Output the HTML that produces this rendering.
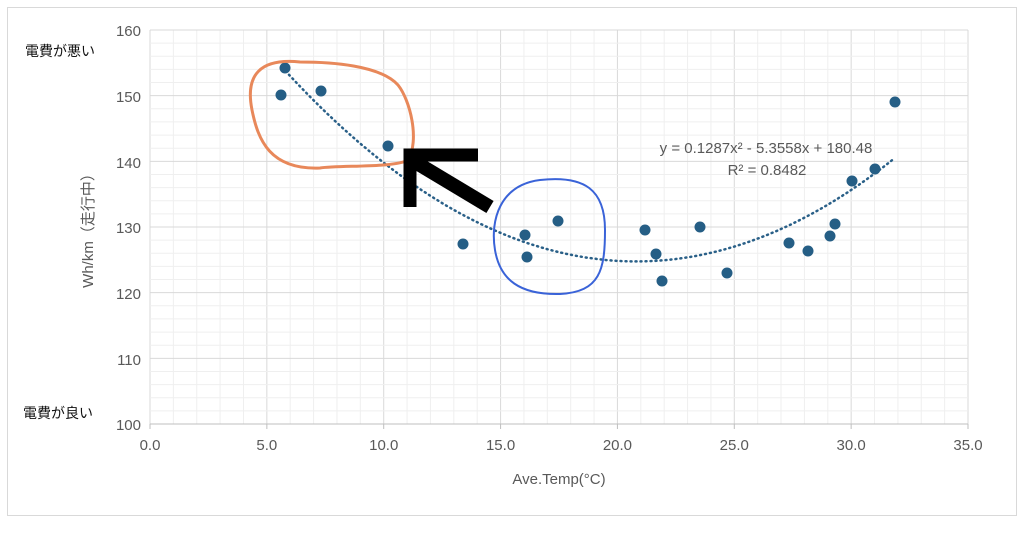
<!DOCTYPE html>
<html><head><meta charset="utf-8"><style>
body{margin:0;background:#fff;width:1024px;height:532px;overflow:hidden}
svg text{font-family:"Liberation Sans","Noto Sans CJK JP",sans-serif;fill:#595959}
</style></head><body>
<svg width="1024" height="532" viewBox="0 0 1024 532" xmlns="http://www.w3.org/2000/svg">
<rect x="7.5" y="7.5" width="1009" height="508" fill="#fff" stroke="#d9d9d9"/>
<g id="grid"></g>
<g id="pts"></g>
<text x="141" y="36" font-size="15" text-anchor="end">160</text>
<text x="141" y="102" font-size="15" text-anchor="end">150</text>
<text x="141" y="168" font-size="15" text-anchor="end">140</text>
<text x="141" y="233" font-size="15" text-anchor="end">130</text>
<text x="141" y="299" font-size="15" text-anchor="end">120</text>
<text x="141" y="365" font-size="15" text-anchor="end">110</text>
<text x="141" y="430" font-size="15" text-anchor="end">100</text>
<text x="25" y="56" font-size="14" style="fill:#111">電費が悪い</text>
<text x="23" y="418" font-size="14" style="fill:#111">電費が良い</text>
<text transform="translate(93,227) rotate(-90)" font-size="15" text-anchor="middle">Wh/km（走行中）</text>
<text x="559" y="484" font-size="15" text-anchor="middle">Ave.Temp(°C)</text>
<text x="766" y="153" font-size="15" text-anchor="middle">y = 0.1287x² - 5.3558x + 180.48</text>
<text x="767" y="175" font-size="15" text-anchor="middle">R² = 0.8482</text>
<path d="M300 62 C260 58 245 75 252 110 C258 140 270 170 320 168 C340 165 395 168 408 160 C420 140 410 100 398 85 C380 65 330 62 300 62 Z" fill="none" stroke="#e8885a" stroke-width="3"/>
<path d="M540 180 C500 185 490 220 495 250 C500 280 520 295 560 294 C600 292 605 270 605 230 C605 190 585 175 540 180 Z" fill="none" stroke="#3a63d8" stroke-width="2"/>
<path d="M490 207 L415 162" stroke="#000" stroke-width="14"/>
<path d="M478 155 L410 155 L410 207" fill="none" stroke="#000" stroke-width="13"/>
</svg>
<script>
const X=v=>150+v*(818/35), Y=v=>30+(160-v)*(394/60);
let g='';
for(let i=0;i<=35;i++){const x=X(i);g+=`<line x1="${x}" y1="30" x2="${x}" y2="424" stroke="${i%5?'#efefef':'#d9d9d9'}"/>`;}
for(let v=100;v<=160;v+=2){const y=Y(v);g+=`<line x1="150" y1="${y}" x2="968" y2="${y}" stroke="${v%10?'#efefef':'#d9d9d9'}"/>`;}
for(let i=0;i<=7;i++){const x=X(i*5);g+=`<line x1="${x}" y1="424" x2="${x}" y2="429" stroke="#bfbfbf"/><text x="${x}" y="450" font-size="15" text-anchor="middle">${(i*5).toFixed(1)}</text>`;}
g+=`<line x1="150" y1="424" x2="968" y2="424" stroke="#bfbfbf"/>`;
document.getElementById('grid').innerHTML=g;
let d='';for(let t=5.8;t<=31.9;t+=0.1){const v=0.1287*t*t-5.3558*t+180.48;d+=(d?'L':'M')+X(t).toFixed(1)+' '+Y(v).toFixed(1);}
let p=`<path d="${d}" fill="none" stroke="#2a6088" stroke-width="2.5" stroke-dasharray="1 4" stroke-linecap="round"/>`;
[[281,95],[285,68],[321,91],[388,146],[463,244],[525,235],[527,257],[558,221],[645,230],[656,254],[662,281],[700,227],[727,273],[789,243],[808,251],[830,236],[835,224],[852,181],[875,169],[895,102]].forEach(([x,y])=>p+=`<circle cx="${x}" cy="${y}" r="5.5" fill="#255e85"/>`);
document.getElementById('pts').innerHTML=p;
</script>
</body></html>
